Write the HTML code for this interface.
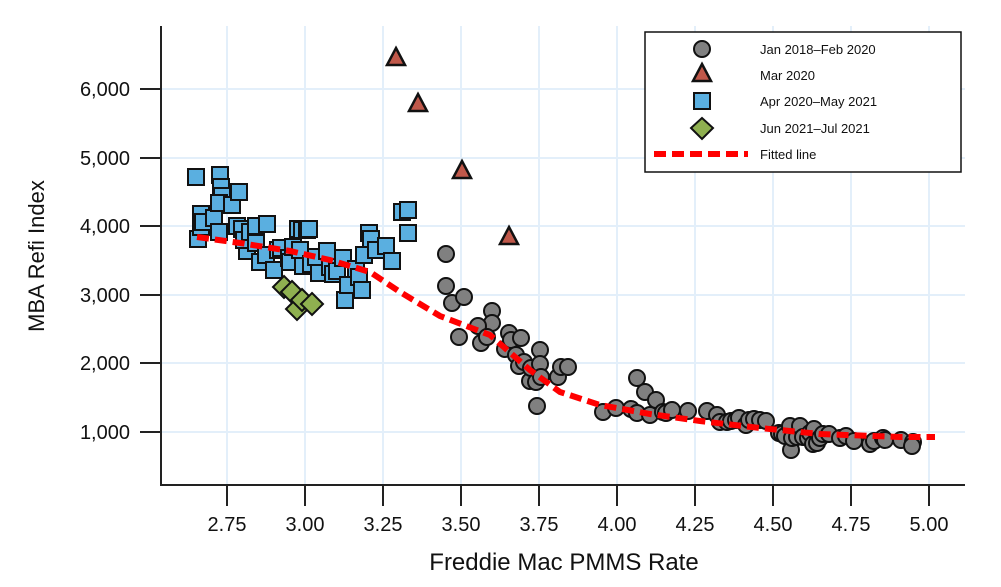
<!DOCTYPE html><html><head><style>body{margin:0;background:#fff}svg{display:block;font-family:"Liberation Sans",sans-serif}</style></head><body>
<svg width="1001" height="587" viewBox="0 0 1001 587">
<g stroke="#e3effa" stroke-width="2">
<line x1="227" y1="26" x2="227" y2="485"/><line x1="305" y1="26" x2="305" y2="485"/><line x1="383" y1="26" x2="383" y2="485"/><line x1="461" y1="26" x2="461" y2="485"/><line x1="539" y1="26" x2="539" y2="485"/><line x1="617" y1="26" x2="617" y2="485"/><line x1="695" y1="26" x2="695" y2="485"/><line x1="773" y1="26" x2="773" y2="485"/><line x1="851" y1="26" x2="851" y2="485"/><line x1="929" y1="26" x2="929" y2="485"/>
<line x1="161" y1="89" x2="965" y2="89"/><line x1="161" y1="158" x2="965" y2="158"/><line x1="161" y1="226" x2="965" y2="226"/><line x1="161" y1="295" x2="965" y2="295"/><line x1="161" y1="363" x2="965" y2="363"/><line x1="161" y1="432" x2="965" y2="432"/>
</g>
<g stroke="#222" stroke-width="2">
<line x1="161" y1="26" x2="161" y2="485"/><line x1="160" y1="485" x2="965" y2="485"/>
<line x1="140" y1="89" x2="161" y2="89"/><line x1="140" y1="158" x2="161" y2="158"/><line x1="140" y1="226" x2="161" y2="226"/><line x1="140" y1="295" x2="161" y2="295"/><line x1="140" y1="363" x2="161" y2="363"/><line x1="140" y1="432" x2="161" y2="432"/>
<line x1="227" y1="485" x2="227" y2="506"/><line x1="305" y1="485" x2="305" y2="506"/><line x1="383" y1="485" x2="383" y2="506"/><line x1="461" y1="485" x2="461" y2="506"/><line x1="539" y1="485" x2="539" y2="506"/><line x1="617" y1="485" x2="617" y2="506"/><line x1="695" y1="485" x2="695" y2="506"/><line x1="773" y1="485" x2="773" y2="506"/><line x1="851" y1="485" x2="851" y2="506"/><line x1="929" y1="485" x2="929" y2="506"/>
</g>
<g font-size="20" fill="#111" text-anchor="end">
<text x="130" y="96">6,000</text><text x="130" y="165">5,000</text><text x="130" y="233">4,000</text><text x="130" y="302">3,000</text><text x="130" y="370">2,000</text><text x="130" y="439">1,000</text>
</g>
<g font-size="20" fill="#111" text-anchor="middle">
<text x="227" y="531">2.75</text><text x="305" y="531">3.00</text><text x="383" y="531">3.25</text><text x="461" y="531">3.50</text><text x="539" y="531">3.75</text><text x="617" y="531">4.00</text><text x="695" y="531">4.25</text><text x="773" y="531">4.50</text><text x="851" y="531">4.75</text><text x="929" y="531">5.00</text>
<text x="564" y="570" font-size="24">Freddie Mac PMMS Rate</text>
<text transform="translate(44,256) rotate(-90)" font-size="22">MBA Refi Index</text>
</g>
<g id="c" fill="#808080" stroke="#111" stroke-width="2"></g>
<g id="s" fill="#5aafe0" stroke="#111" stroke-width="2"></g>
<g id="d" fill="#8fb050" stroke="#111" stroke-width="2"></g>
<g id="t" fill="#c0584a" stroke="#111" stroke-width="2.5"></g>
<polyline id="fit" fill="none" stroke="#f00" stroke-width="6" stroke-dasharray="12,6" points="197,237 240,243 290,251 330,260 370,272 400,292 440,316 490,335 530,370 560,392 600,405 650,414 700,421 760,428 820,434 900,437 935,437"/>
<rect x="645" y="32" width="316" height="140" fill="#fff" stroke="#111" stroke-width="1.5"/>
<circle cx="702" cy="49" r="8" fill="#808080" stroke="#111" stroke-width="2"/>
<polygon points="702,64 711,81 693,81" fill="#c0584a" stroke="#111" stroke-width="2.5"/>
<rect x="694" y="93" width="16" height="16" fill="#5aafe0" stroke="#111" stroke-width="2"/>
<polygon points="702,118 713,128 702,139 691,128" fill="#8fb050" stroke="#111" stroke-width="2"/>
<line x1="654" y1="154" x2="748" y2="154" stroke="#f00" stroke-width="6" stroke-dasharray="12,6"/>
<g font-size="13" fill="#111"><text x="760" y="54">Jan 2018–Feb 2020</text><text x="760" y="80">Mar 2020</text><text x="760" y="106">Apr 2020–May 2021</text><text x="760" y="133">Jun 2021–Jul 2021</text><text x="760" y="159">Fitted line</text></g>
</svg>
<script>
var ns="http://www.w3.org/2000/svg";
function add(g,tag,attrs){var e=document.createElementNS(ns,tag);for(var k in attrs)e.setAttribute(k,attrs[k]);document.getElementById(g).appendChild(e);}
var C=[[446,254],[446,286],[452,303],[459,337],[464,297],[492,311],[492,323],[478,326],[481,343],[487,337],[505,349],[509,333],[511,340],[516,355],[521,338],[519,366],[524,362],[530,381],[531,368],[536,382],[540,350],[540,364],[537,406],[541,377],[558,377],[561,367],[568,367],[603,412],[616,408],[631,409],[637,378],[637,413],[645,392],[650,415],[656,400],[663,412],[666,413],[672,410],[688,411],[707,411],[717,415],[720,422],[727,422],[731,421],[736,420],[739,418],[746,425],[749,420],[754,419],[760,420],[766,421],[779,433],[782,434],[785,436],[790,426],[791,450],[792,438],[797,437],[800,426],[803,437],[808,438],[810,433],[813,444],[814,429],[817,443],[820,438],[823,434],[829,434],[840,438],[846,436],[854,441],[870,444],[874,441],[883,438],[885,440],[901,440],[913,442],[912,446]];
C.forEach(function(p){add("c","circle",{cx:p[0],cy:p[1],r:8});});
var S=[[196,177],[198,239],[201,214],[201,227],[203,222],[214,218],[219,232],[220,175],[221,187],[222,196],[219,203],[232,205],[239,192],[237,226],[242,229],[246,240],[247,251],[244,240],[250,232],[256,243],[256,226],[260,262],[266,255],[267,224],[274,270],[278,250],[281,248],[289,258],[290,262],[293,247],[298,229],[300,250],[302,230],[303,266],[307,230],[309,229],[311,264],[316,257],[319,273],[327,251],[330,267],[333,274],[337,271],[343,258],[345,300],[348,285],[356,269],[359,277],[362,290],[364,255],[369,233],[371,239],[376,250],[386,246],[392,261],[402,212],[408,210],[408,233]];
S.forEach(function(p){add("s","rect",{x:p[0]-8,y:p[1]-8,width:16,height:16});});
[[284,287],[292,292],[297,309],[302,300],[312,304]].forEach(function(p){add("d","polygon",{points:p[0]+","+(p[1]-11)+" "+(p[0]+11)+","+p[1]+" "+p[0]+","+(p[1]+11)+" "+(p[0]-11)+","+p[1]});});
[[396,57],[418,103],[462,170],[509,236]].forEach(function(p){add("t","polygon",{points:p[0]+","+(p[1]-9)+" "+(p[0]+9)+","+(p[1]+8)+" "+(p[0]-9)+","+(p[1]+8)});});
var f=document.getElementById("fit");f.parentNode.insertBefore(f,document.getElementById("t").nextSibling);
</script>
</body></html>
